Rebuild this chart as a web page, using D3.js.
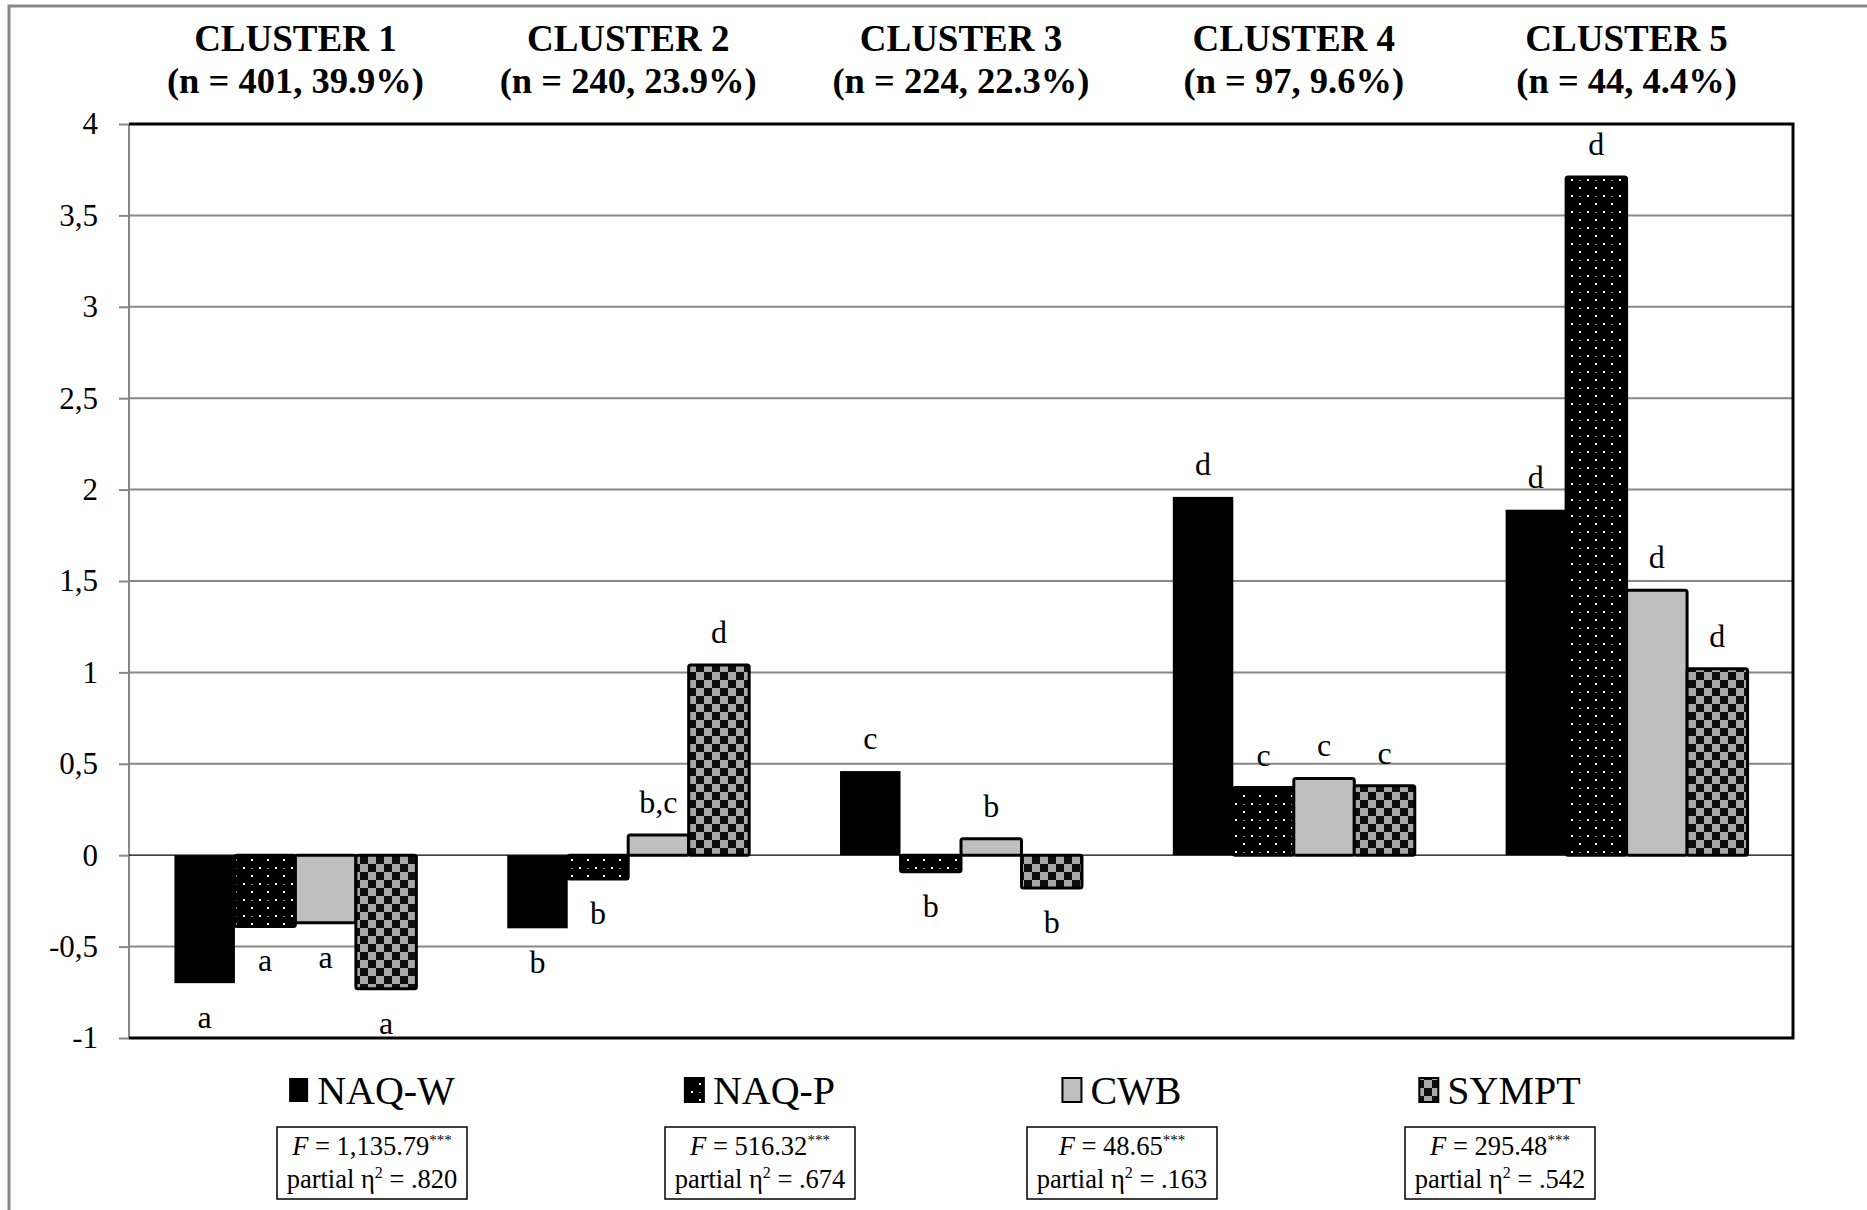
<!DOCTYPE html>
<html>
<head>
<meta charset="utf-8">
<style>
  body { margin: 0; background: #fff; }
  svg text { font-family: "Liberation Serif", "Times New Roman", serif; fill: #000; }
  .grid line { stroke: #878787; stroke-width: 2px; }
  .title text { font-weight: bold; }
  .title .t1 { font-size: 37px; }
  .title .t2 { font-size: 36.5px; }
  .y-axis text { font-size: 31px; }
  .letter { font-size: 32px; }
  .legend text { font-size: 40px; }
  .stat text { font-size: 26.5px; }
</style>
</head>
<body>
<script src="https://cdnjs.cloudflare.com/ajax/libs/d3/7.8.5/d3.min.js"></script>
<script>
// cluster headers
var clusters = ["CLUSTER 1", "CLUSTER 2", "CLUSTER 3", "CLUSTER 4", "CLUSTER 5"];
var clusterSizes = ["(n = 401, 39.9%)", "(n = 240, 23.9%)", "(n = 224, 22.3%)", "(n = 97, 9.6%)", "(n = 44, 4.4%)"];

// series (z-scores per cluster)
var series = ["NAQ-W", "NAQ-P", "CWB", "SYMPT"];
var naqW  = [-0.70, -0.40,  0.46, 1.96, 1.89];
var naqP  = [-0.39, -0.13, -0.09, 0.37, 3.71];
var cwb   = [-0.37,  0.11,  0.09, 0.42, 1.45];
var sympt = [-0.73,  1.04, -0.18, 0.38, 1.02];

// post-hoc group letters
var naqWLetters  = ["a", "b", "c", "d", "d"];
var naqPLetters  = ["a", "b", "b", "c", "d"];
var cwbLetters   = ["a", "b,c", "b", "c", "d"];
var symptLetters = ["a", "d", "b", "c", "d"];

// ANOVA stats
var fValues   = ["1,135.79", "516.32", "48.65", "295.48"];
var etaValues = [".820", ".674", ".163", ".542"];

var yTicks = [-1, -0.5, 0, 0.5, 1, 1.5, 2, 2.5, 3, 3.5, 4];

// layout
var W = 1867, H = 1210;
var plot = { left: 129, right: 1793, top: 124, bottom: 1038 };
var legendCenters = [372, 760, 1122, 1500];

var values = [naqW, naqP, cwb, sympt];
var letters = [naqWLetters, naqPLetters, cwbLetters, symptLetters];

var svg = d3.select("body").append("svg")
    .attr("width", W)
    .attr("height", H);

// patterns
var defs = svg.append("defs");
var dots = defs.append("pattern")
    .attr("id", "dots")
    .attr("patternUnits", "userSpaceOnUse")
    .attr("width", 16).attr("height", 16);
dots.append("rect").attr("width", 16).attr("height", 16).attr("fill", "#000");
dots.append("rect").attr("x", 3).attr("y", 3).attr("width", 2).attr("height", 2).attr("fill", "#fff");
dots.append("rect").attr("x", 11).attr("y", 11).attr("width", 2).attr("height", 2).attr("fill", "#fff");
dots.append("rect").attr("x", 11).attr("y", 4).attr("width", 2).attr("height", 1).attr("fill", "#888");

var checks = defs.append("pattern")
    .attr("id", "checks")
    .attr("patternUnits", "userSpaceOnUse")
    .attr("width", 16).attr("height", 16);
checks.append("rect").attr("width", 16).attr("height", 16).attr("fill", "#a8a8a8");
checks.append("rect").attr("width", 8).attr("height", 8).attr("fill", "#0e0e0e");
checks.append("rect").attr("x", 8).attr("y", 8).attr("width", 8).attr("height", 8).attr("fill", "#0e0e0e");

var fills = ["#000", "url(#dots)", "#bfbfbf", "url(#checks)"];
var strokes = ["none", "#000", "#000", "#000"];

// outer frame
svg.append("rect")
    .attr("x", 9).attr("y", 6)
    .attr("width", W + 20).attr("height", H + 20)
    .attr("fill", "none")
    .attr("stroke", "#878787")
    .attr("stroke-width", 3);

// scales
var x0 = d3.scaleBand()
    .domain(clusters)
    .range([plot.left, plot.right])
    .paddingInner(0.273)
    .paddingOuter(0.1365);

var x1 = d3.scaleBand()
    .domain(series)
    .range([0, x0.bandwidth()]);

var y = d3.scaleLinear()
    .domain([-1, 4])
    .range([plot.bottom, plot.top]);

var commaLocale = d3.formatLocale({ decimal: ",", thousands: ".", grouping: [3], currency: ["", ""], minus: "-" });
var tickFmt = commaLocale.format("");

// grid lines
svg.append("g")
    .attr("class", "grid")
  .selectAll("line")
  .data(yTicks.filter(function (d) { return d !== -1 && d !== 4 && d !== 0; }))
  .join("line")
    .attr("x1", plot.left)
    .attr("x2", plot.right)
    .attr("y1", function (d) { return y(d); })
    .attr("y2", function (d) { return y(d); });

// y axis
var yAxis = d3.axisLeft(y)
    .tickValues(yTicks)
    .tickFormat(tickFmt)
    .tickSize(10)
    .tickPadding(21)
    .tickSizeOuter(0);

var ya = svg.append("g")
    .attr("class", "y-axis")
    .attr("transform", "translate(" + plot.left + ",0)")
    .call(yAxis);
ya.select(".domain").remove();
ya.selectAll(".tick line").attr("stroke", "#878787").attr("stroke-width", 2);
ya.selectAll(".tick text").attr("fill", "#000");
ya.attr("font-family", null).attr("font-size", null);

svg.append("line")
    .attr("x1", plot.left).attr("x2", plot.left)
    .attr("y1", plot.top).attr("y2", plot.bottom)
    .attr("stroke", "#878787").attr("stroke-width", 2);

// bars
var rows = [];
clusters.forEach(function (c, i) {
  series.forEach(function (s, j) {
    rows.push({ cluster: c, series: s, si: j, value: values[j][i], letter: letters[j][i] });
  });
});

var barG = svg.append("g");
barG.selectAll("rect")
  .data(rows)
  .join("rect")
    .attr("x", function (d) { return x0(d.cluster) + x1(d.series); })
    .attr("y", function (d) { return y(Math.max(0, d.value)); })
    .attr("width", x1.bandwidth())
    .attr("height", function (d) { return Math.abs(y(d.value) - y(0)); })
    .attr("rx", function (d) { return d.si === 0 ? 0 : 2; })
    .attr("fill", function (d) { return fills[d.si]; })
    .attr("stroke", function (d) { return strokes[d.si]; })
    .attr("stroke-width", 3);

// zero line
svg.append("line")
    .attr("x1", plot.left).attr("x2", plot.right)
    .attr("y1", y(0)).attr("y2", y(0))
    .attr("stroke", "#000").attr("stroke-width", 1.2);

// plot borders (top, right, bottom)
svg.append("path")
    .attr("d", "M" + plot.left + "," + plot.top + "H" + plot.right + "V" + plot.bottom + "H" + plot.left)
    .attr("fill", "none")
    .attr("stroke", "#000")
    .attr("stroke-width", 3);

// letters
svg.append("g").selectAll("text")
  .data(rows)
  .join("text")
    .attr("class", "letter")
    .attr("text-anchor", "middle")
    .attr("x", function (d) { return x0(d.cluster) + x1(d.series) + x1.bandwidth() / 2; })
    .attr("y", function (d) { return d.value >= 0 ? y(d.value) - 22 : y(d.value) + 45; })
    .text(function (d) { return d.letter; });

// cluster titles
var titles = svg.append("g").attr("class", "title");
titles.selectAll("text.t1")
  .data(clusters)
  .join("text")
    .attr("class", "t1")
    .attr("text-anchor", "middle")
    .attr("x", function (d) { return x0(d) + x0.bandwidth() / 2; })
    .attr("y", 51)
    .text(function (d) { return d; });
titles.selectAll("text.t2")
  .data(clusterSizes)
  .join("text")
    .attr("class", "t2")
    .attr("text-anchor", "middle")
    .attr("x", function (d, i) { return x0(clusters[i]) + x0.bandwidth() / 2; })
    .attr("y", 93)
    .text(function (d) { return d; });

// legend
var legend = svg.append("g").attr("class", "legend");
series.forEach(function (s, j) {
  var g = legend.append("g");
  var t = g.append("text")
      .attr("y", 1104)
      .text(s);
  var tw = t.node().getComputedTextLength();
  var sw = 19, gap = 9;
  var start = legendCenters[j] - (sw + gap + tw) / 2;
  g.append("rect")
      .attr("x", start).attr("y", 1078)
      .attr("width", sw).attr("height", 24)
      .attr("fill", fills[j])
      .attr("stroke", j === 0 ? "none" : "#000")
      .attr("stroke-width", 2);
  t.attr("x", start + sw + gap);
});

// stat boxes
var stat = svg.append("g").attr("class", "stat");
fValues.forEach(function (f, j) {
  var cx = legendCenters[j];
  stat.append("rect")
      .attr("x", cx - 95).attr("y", 1127)
      .attr("width", 190).attr("height", 72)
      .attr("fill", "#fff")
      .attr("stroke", "#000")
      .attr("stroke-width", 1.5);
  var l1 = stat.append("text")
      .attr("x", cx).attr("y", 1155)
      .attr("text-anchor", "middle");
  l1.append("tspan").attr("font-style", "italic").text("F");
  l1.append("tspan").text(" = " + f);
  l1.append("tspan").attr("font-size", "15px").attr("dy", -10).text("***");
  var l2 = stat.append("text")
      .attr("x", cx).attr("y", 1188)
      .attr("text-anchor", "middle");
  l2.append("tspan").text("partial \u03b7");
  l2.append("tspan").attr("font-size", "16px").attr("dy", -10).text("2");
  l2.append("tspan").attr("dy", 10).text(" = " + etaValues[j]);
});
</script>
</body>
</html>
